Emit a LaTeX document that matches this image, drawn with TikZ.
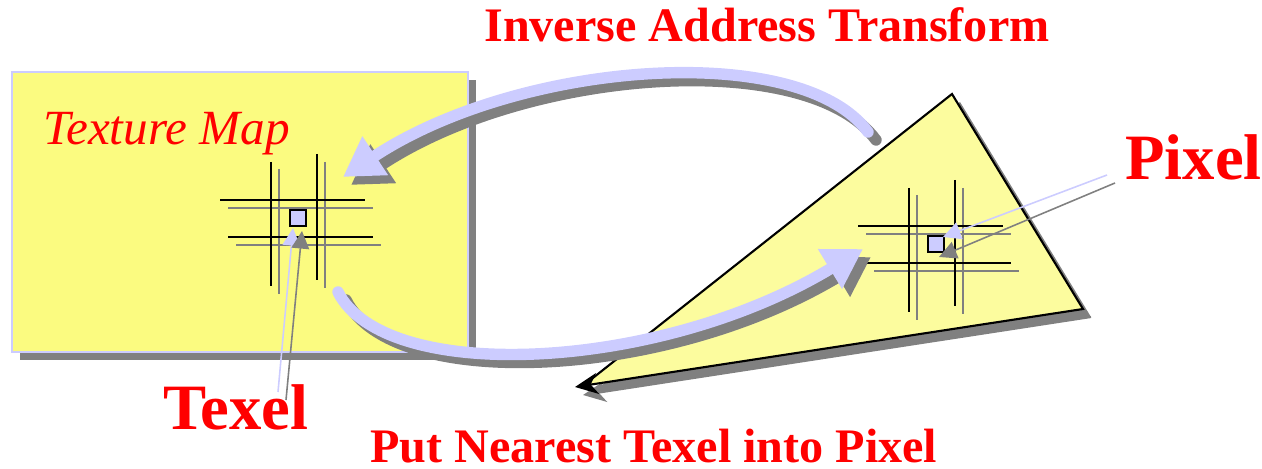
\documentclass[tikz,border=0pt]{standalone}
\usepackage{fontspec}
\setmainfont{Liberation Serif}
\usetikzlibrary{arrows.meta}

\definecolor{mapyellow}{HTML}{FBFB80}
\definecolor{triyellow}{HTML}{FCFC9E}
\definecolor{lavender}{HTML}{CCCCFF}
\definecolor{shadowgray}{HTML}{808080}

\tikzset{
  pics/cellgrid/.style={code={
    \draw[gridline, shadowgray] (-11,-41) -- (-11,84) (35,-48) -- (35,78)
      (-62,-2) -- (83,-2) (-54,35) -- (91,35);
    \draw[gridline] (-19,-48) -- (-19,76) (27,-56) -- (27,70)
      (-70,-10) -- (75,-10) (-62,27) -- (83,27);
    \node[cell] (-cell) at (8,8) {};
  }}
}

\begin{document}
\begin{tikzpicture}[x=0.02cm, y=-0.02cm,
    dropshade/.style={transform canvas={shift={(8,8)}}},
    bigarrow/.style={line width=6.5pt, line cap=round, -{Triangle[length=22pt,width=25pt]}},
    pointer/.style={line width=0.9pt, -{Triangle[length=10pt,width=10pt]}},
    edgearrow/.style={line width=1.2pt, line join=miter, -{Stealth[length=13pt,width=12pt,inset=4pt]}},
    gridline/.style={line width=1.25pt},
    cell/.style={draw, line width=1.2pt, fill=lavender, minimum size=9pt, inner sep=0pt},
    caption/.style={text=red, font=\bfseries\fontsize{27.4}{29}\selectfont, inner sep=0pt, anchor=base west},
    bigcaption/.style={caption, font=\bfseries\fontsize{36.8}{38}\selectfont}]

  \useasboundingbox (0,0) rectangle (1262,469);

  % texture map
  \fill[shadowgray] (20,80) rectangle (476,360);
  \draw[lavender, fill=mapyellow, line width=1pt] (12,72) rectangle (468,352);
  \node[caption, font=\itshape\fontsize{28}{30}\selectfont] (map) at (43,145) {Texture Map};
  \pic (tx) at (290,210) {cellgrid};

  % screen triangle
  \coordinate (tri-top) at (952,94);
  \coordinate (tri-right) at (1083,309);
  \coordinate (tri-left) at (584,385);
  \coordinate (tri-tip) at (575,387);
  \fill[shadowgray, dropshade] (tri-left) -- (tri-top) -- (tri-right) -- cycle;
  \draw[edgearrow, shadowgray, dropshade] (tri-right) -- (tri-tip);
  \fill[triyellow] (tri-left) -- (tri-top) -- (tri-right) -- cycle;
  \draw[edgearrow] (tri-left) -- (tri-top) -- (tri-right) -- (tri-tip);
  \pic (px) at (928,236) {cellgrid};

  % transform arrows
  \coordinate (ia-start) at (868,132);
  \coordinate (ia-end) at (343,177);
  \coordinate (pn-start) at (338,292);
  \coordinate (pn-end) at (863,249);
  \draw[bigarrow, shadowgray, dropshade] (ia-start) .. controls (800,40) and (520,60) .. (ia-end);
  \draw[bigarrow, lavender] (ia-start) .. controls (800,40) and (520,60) .. (ia-end);
  \draw[bigarrow, shadowgray, dropshade] (pn-start) .. controls (385,385) and (660,372) .. (pn-end);
  \draw[bigarrow, lavender] (pn-start) .. controls (385,385) and (660,372) .. (pn-end);

  % pointers
  \coordinate (texel-a) at (278,392);
  \coordinate (texel-b) at (286,400);
  \coordinate (texel-tip-a) at (293,228);
  \coordinate (texel-tip-b) at (302,231);
  \draw[pointer, lavender] (texel-a) -- (texel-tip-a);
  \draw[pointer, shadowgray] (texel-b) -- (texel-tip-b);
  \coordinate (pixel-a) at (1107,175);
  \coordinate (pixel-b) at (1115,183);
  \coordinate (pixel-tip-a) at (943,237);
  \coordinate (pixel-tip-b) at (939,257);
  \draw[pointer, lavender] (pixel-a) -- (pixel-tip-a);
  \draw[pointer, shadowgray] (pixel-b) -- (pixel-tip-b);

  % captions
  \node[caption] (inverse) at (484,42) {Inverse Address Transform};
  \node[caption] (nearest) at (370,463) {Put Nearest Texel into Pixel};
  \node[bigcaption] (texel) at (163,430) {Texel};
  \node[bigcaption] (pixel) at (1125,180) {Pixel};
\end{tikzpicture}
\end{document}
